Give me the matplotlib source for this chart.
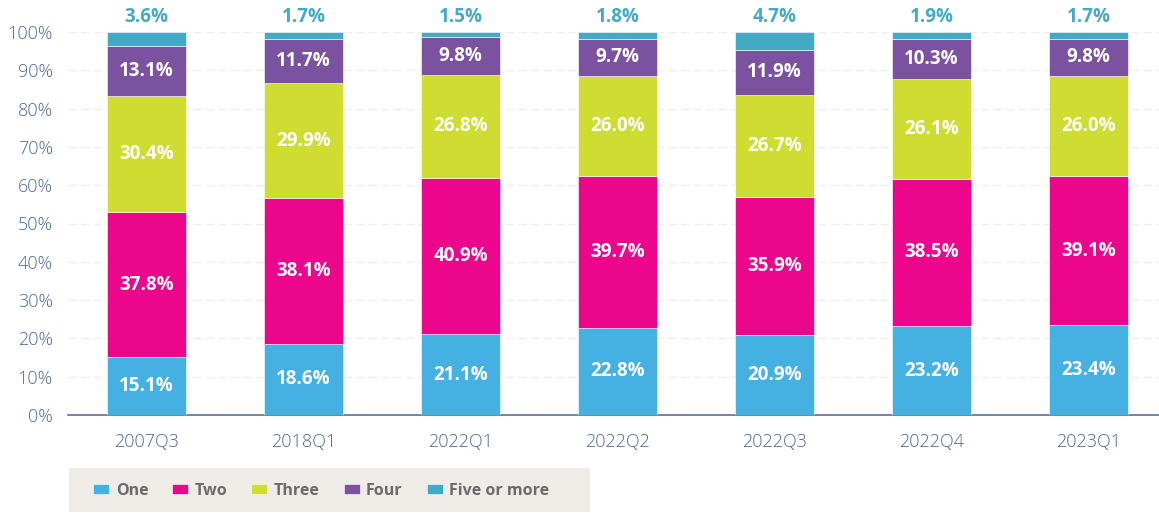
import matplotlib
matplotlib.use("Agg")
import matplotlib.pyplot as plt
from matplotlib.patches import Rectangle

categories = ["2007Q3", "2018Q1", "2022Q1", "2022Q2", "2022Q3", "2022Q4", "2023Q1"]
one = [15.1, 18.6, 21.1, 22.8, 20.9, 23.2, 23.4]
two = [37.8, 38.1, 40.9, 39.7, 35.9, 38.5, 39.1]
three = [30.4, 29.9, 26.8, 26.0, 26.7, 26.1, 26.0]
four = [13.1, 11.7, 9.8, 9.7, 11.9, 10.3, 9.8]
five = [3.6, 1.7, 1.5, 1.8, 4.7, 1.9, 1.7]
series_names = ["One", "Two", "Three", "Four", "Five or more"]
yticks = [0, 10, 20, 30, 40, 50, 60, 70, 80, 90, 100]

colors = ["#45b0e2", "#eb068c", "#cfdc32", "#7b529f", "#43aac6"]
tick_color = "#4a6898"
plt.rcParams['font.family'] = ['Open Sans', 'DejaVu Sans']

fig = plt.figure(figsize=(11.59, 5.13), dpi=100)
ax = fig.add_axes([68/1159, 1 - 415/513, (1159 - 68) / 1159, (415 - 32) / 513])

x = list(range(len(categories)))
series = [one, two, three, four, five]
bottom = [0.0] * len(categories)
for i, (vals, col, name) in enumerate(zip(series, colors, series_names)):
    ax.bar(x, vals, bottom=bottom, width=0.5, color=col, label=name,
           edgecolor="white", linewidth=0.4, zorder=3)
    for xi, v, b in zip(x, vals, bottom):
        if i < 4:
            ax.text(xi, b + v / 2, f"{v:.1f}%", ha="center", va="center",
                    color="white", fontsize=13.5, fontweight="bold", zorder=4)
        else:
            ax.text(xi, 101.3, f"{v:.1f}%", ha="center", va="bottom",
                    color="#43aac6", fontsize=13.5, fontweight="bold", zorder=4,
                    clip_on=False)
    bottom = [b + v for b, v in zip(bottom, vals)]

ax.set_xlim(-0.5, len(categories) - 0.5 + (1159 - 68 - 7 * 157) / 157)
ax.set_ylim(0, 100)
ax.set_yticks(yticks)
ax.set_yticklabels([f"{t}%" for t in yticks])
ax.set_xticks(x)
ax.set_xticklabels(categories)
ax.tick_params(axis="both", length=0, labelsize=13, colors=tick_color)
ax.tick_params(axis="x", pad=13)
ax.tick_params(axis="y", pad=11)
for lab in ax.get_xticklabels() + ax.get_yticklabels():
    lab.set_fontweight("light")

ax.yaxis.grid(True, color="#eeeeee", linestyle=(0, (6, 3)), linewidth=1, zorder=0)
for s in ["top", "right", "left"]:
    ax.spines[s].set_visible(False)
ax.spines["bottom"].set_color("#5a6f9c")
ax.spines["bottom"].set_linewidth(1.2)

# legend box
fig.patches.append(Rectangle((69/1159, 1 - 512/513), (590 - 69) / 1159, (512 - 468) / 513,
                             transform=fig.transFigure, facecolor="#efebe7",
                             edgecolor="none", zorder=0))
handles, labels = ax.get_legend_handles_labels()
leg = fig.legend(handles, labels, loc="center left",
                 bbox_to_anchor=(79/1159, 1 - 491/513), ncol=5, frameon=False,
                 handlelength=1.0, handleheight=0.6, columnspacing=1.5,
                 handletextpad=0.4, fontsize=11.5)
for t in leg.get_texts():
    t.set_color("#6a6a6a")
    t.set_fontweight("bold")

fig.savefig("out.png", dpi=100)
